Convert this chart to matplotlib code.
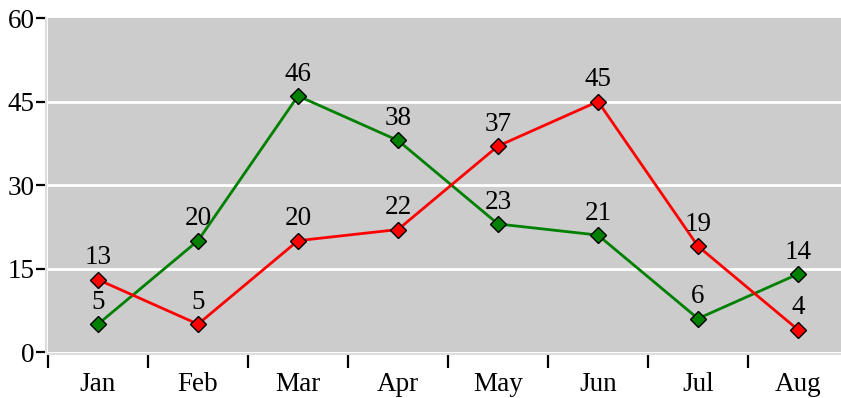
import numpy as np
import matplotlib.pyplot as plt

# monthly values for the two series
months = ['Jan', 'Feb', 'Mar', 'Apr', 'May', 'Jun', 'Jul', 'Aug']
red_values = [13, 5, 20, 22, 37, 45, 19, 4]
green_values = [5, 20, 46, 38, 23, 21, 6, 14]
y_ticks = [0, 15, 30, 45, 60]

plt.rcParams['font.family'] = ['Liberation Serif', 'DejaVu Serif']
FS = 19.5

W, H = 841, 398
fig = plt.figure(figsize=(W / 100, H / 100), dpi=100)
# plot area runs 48..848 px horizontally (the last band is cut at the edge)
ax = fig.add_axes([48 / W, (H - 352) / H, 800 / W, 334 / H])
ax.set_facecolor('#cccccc')

x = np.arange(len(months))
ax.set_xlim(-0.5, len(months) - 0.5)
ax.set_ylim(0, 60)

# white horizontal grid lines
for v in y_ticks[1:-1]:
    ax.axhline(v, color='white', lw=2, zorder=1)

ax.plot(x, green_values, color='#008000', lw=2, marker='D', ms=8,
        mfc='#008000', mec='black', mew=1, zorder=3)
ax.plot(x, red_values, color='#ff0000', lw=2, marker='D', ms=8,
        mfc='#ff0000', mec='black', mew=1, zorder=4)

for xi, v in zip(x, green_values):
    ax.annotate(str(v), (xi, v), xytext=(0, 11), textcoords='offset points',
                ha='center', va='baseline', fontsize=FS, zorder=5)
for xi, v in zip(x, red_values):
    ax.annotate(str(v), (xi, v), xytext=(0, 11), textcoords='offset points',
                ha='center', va='baseline', fontsize=FS, zorder=5)

# axes styling
for side in ['top', 'right']:
    ax.spines[side].set_visible(False)
for side in ['left', 'bottom']:
    ax.spines[side].set_color('#dddddd')
    ax.spines[side].set_linewidth(1.5)
    ax.spines[side].set_position(('outward', 1.5))

ax.set_yticks(y_ticks)
ax.tick_params(axis='y', length=7, width=1.6, color='black', pad=1, labelsize=FS)

# band boundaries carry the tick marks, band centres carry the labels
ax.set_xticks(np.arange(len(months)) - 0.5)
ax.set_xticklabels([])
ax.set_xticks(x, minor=True)
ax.set_xticklabels(months, minor=True)
ax.tick_params(axis='x', which='major', length=10, width=1.6, color='black')
ax.tick_params(axis='x', which='minor', length=0, pad=13, labelsize=FS)

fig.savefig('out.png', dpi=100)
